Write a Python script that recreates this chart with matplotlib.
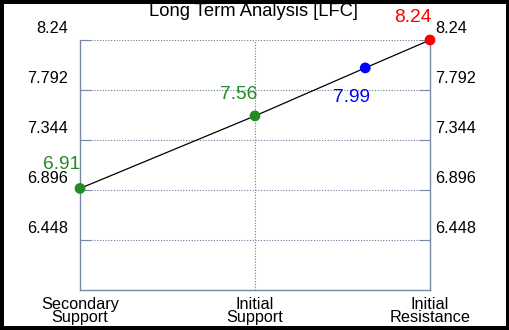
import matplotlib
matplotlib.use("Agg")
import matplotlib.pyplot as plt
from matplotlib.patches import Rectangle
import matplotlib.transforms as mtransforms

plt.rcParams['font.family'] = ['Liberation Sans', 'DejaVu Sans']

title = "Long Term Analysis [LFC]"
categories = ["Secondary\nSupport", "Initial\nSupport", "Initial\nResistance"]
cat_pos = [0, 1, 2]
point_x = [0, 1, 1.63, 2]
point_y = [6.91, 7.56, 7.99, 8.24]
point_colors = ["#228B22", "#228B22", "#0000FF", "#FF0000"]
point_labels = ["6.91", "7.56", "7.99", "8.24"]
label_offsets = [(-18, 24), (-16, 21), (-14, -30), (-17, 22)]
yticks = [8.24, 7.792, 7.344, 6.896, 6.448]
ymin, ymax = 6.0, 8.24

W, H = 510, 330
fig = plt.figure(figsize=(W / 100, H / 100), dpi=100, facecolor="black")
fig.patches.append(Rectangle((4 / W, 4 / H), (W - 8) / W, (H - 8) / H,
                             transform=fig.transFigure, facecolor="white",
                             edgecolor="none", zorder=-10))
ax = fig.add_axes([80 / W, 40 / H, 350 / W, 250 / H])
ax.set_zorder(1)
ax.set_xlim(0, 2)
ax.set_ylim(ymin, ymax)
ax.set_facecolor("white")

spine_c = "#7788a6"
grid_c = "#6a7a9a"
for s in ["left", "right", "bottom"]:
    ax.spines[s].set_color(spine_c)
    ax.spines[s].set_linewidth(1.0)
ax.spines["top"].set_visible(False)

for y in yticks:
    ax.axhline(y, color=grid_c, lw=0.8, ls=(0, (1, 1.5)), zorder=1)
ax.axvline(1, color=grid_c, lw=0.8, ls=(0, (1, 1.5)), zorder=1)

ax.plot(point_x, point_y, color="black", lw=0.9, zorder=2, clip_on=False)
ax.scatter(point_x, point_y, c=point_colors, s=60, zorder=3, edgecolors="none",
           clip_on=False)

for x, y, lab, c, (dx, dy) in zip(point_x, point_y, point_labels, point_colors, label_offsets):
    ax.annotate(lab, (x, y), xytext=(dx, dy), textcoords="offset pixels",
                color=c, fontsize=13.8, ha="center", va="center")

ax.set_yticks(yticks)
ax.set_yticklabels([f"{v:g}" for v in yticks])
ax.tick_params(axis="y", which="both", direction="in", length=8, color=spine_c,
               left=True, right=True, labelleft=True, labelright=True,
               labelsize=11.7, pad=8.6)
off_l = mtransforms.ScaledTranslation(0, 13 / 100, fig.dpi_scale_trans)
off_r = mtransforms.ScaledTranslation(-6.5 / 100, 13 / 100, fig.dpi_scale_trans)
for t in ax.yaxis.get_major_ticks():
    t.label1.set_transform(t.label1.get_transform() + off_l)
    t.label2.set_transform(t.label2.get_transform() + off_r)

ax.set_xticks(cat_pos)
ax.set_xticklabels(categories, linespacing=0.85)
ax.tick_params(axis="x", length=0, labelsize=11.7, pad=5)

fig.text(253 / W, 1 - 15.5 / H, title, ha="center", va="baseline", fontsize=13.2)

fig.savefig("out.png", dpi=100, facecolor="black")
